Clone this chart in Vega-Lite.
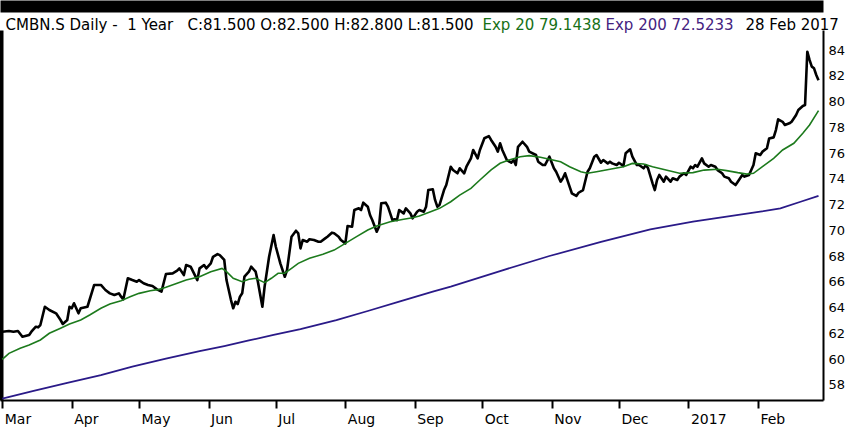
{
  "$schema": "https://vega.github.io/schema/vega-lite/v6.json",
  "width": 823,
  "height": 370,
  "autosize": {"type": "none"},
  "padding": {"left": 0, "top": 30, "right": 27, "bottom": 34},
  "background": "white",
  "config": {
    "view": {"stroke": null},
    "font": "DejaVu Sans",
    "axis": {"labelFont": "DejaVu Sans", "titleFont": "DejaVu Sans", "titleFontWeight": "normal", "grid": false}
  },
  "datasets": {
    "close": [
      {"date": "2016-03-01", "price": 61.98}, {"date": "2016-03-04", "price": 62.04}, {"date": "2016-03-06", "price": 61.98},
      {"date": "2016-03-08", "price": 62.04}, {"date": "2016-03-10", "price": 61.59}, {"date": "2016-03-13", "price": 61.73},
      {"date": "2016-03-14", "price": 61.98}, {"date": "2016-03-16", "price": 62.37}, {"date": "2016-03-17", "price": 62.32},
      {"date": "2016-03-18", "price": 62.50}, {"date": "2016-03-20", "price": 63.92}, {"date": "2016-03-22", "price": 63.67},
      {"date": "2016-03-25", "price": 63.41}, {"date": "2016-03-27", "price": 62.89}, {"date": "2016-03-28", "price": 62.58},
      {"date": "2016-03-30", "price": 62.89}, {"date": "2016-03-31", "price": 63.92}, {"date": "2016-04-01", "price": 63.80},
      {"date": "2016-04-02", "price": 64.19}, {"date": "2016-04-04", "price": 63.41}, {"date": "2016-04-05", "price": 63.80},
      {"date": "2016-04-08", "price": 63.92}, {"date": "2016-04-11", "price": 65.61}, {"date": "2016-04-14", "price": 65.61},
      {"date": "2016-04-16", "price": 65.22}, {"date": "2016-04-18", "price": 64.96}, {"date": "2016-04-20", "price": 64.83},
      {"date": "2016-04-22", "price": 64.96}, {"date": "2016-04-23", "price": 64.70}, {"date": "2016-04-24", "price": 64.50},
      {"date": "2016-04-26", "price": 66.13}, {"date": "2016-04-28", "price": 65.99}, {"date": "2016-04-30", "price": 65.86},
      {"date": "2016-05-01", "price": 65.99}, {"date": "2016-05-03", "price": 65.74}, {"date": "2016-05-05", "price": 65.61},
      {"date": "2016-05-07", "price": 65.53}, {"date": "2016-05-09", "price": 65.27}, {"date": "2016-05-11", "price": 65.09},
      {"date": "2016-05-13", "price": 66.46}, {"date": "2016-05-16", "price": 66.51}, {"date": "2016-05-18", "price": 66.72},
      {"date": "2016-05-19", "price": 66.90}, {"date": "2016-05-21", "price": 66.38}, {"date": "2016-05-22", "price": 67.16},
      {"date": "2016-05-24", "price": 67.03}, {"date": "2016-05-27", "price": 65.99}, {"date": "2016-05-28", "price": 66.90},
      {"date": "2016-05-30", "price": 67.16}, {"date": "2016-05-31", "price": 66.90}, {"date": "2016-06-02", "price": 67.29},
      {"date": "2016-06-03", "price": 67.80}, {"date": "2016-06-05", "price": 68.01}, {"date": "2016-06-06", "price": 67.93},
      {"date": "2016-06-08", "price": 67.55}, {"date": "2016-06-09", "price": 65.99}, {"date": "2016-06-11", "price": 64.44},
      {"date": "2016-06-12", "price": 63.80}, {"date": "2016-06-13", "price": 64.31}, {"date": "2016-06-14", "price": 64.13},
      {"date": "2016-06-15", "price": 64.70}, {"date": "2016-06-16", "price": 64.96}, {"date": "2016-06-17", "price": 66.25},
      {"date": "2016-06-19", "price": 66.64}, {"date": "2016-06-20", "price": 67.03}, {"date": "2016-06-22", "price": 66.64},
      {"date": "2016-06-23", "price": 65.86}, {"date": "2016-06-25", "price": 63.92}, {"date": "2016-06-26", "price": 65.48},
      {"date": "2016-06-28", "price": 67.80}, {"date": "2016-06-30", "price": 69.49}, {"date": "2016-07-01", "price": 68.58},
      {"date": "2016-07-03", "price": 67.29}, {"date": "2016-07-05", "price": 66.25}, {"date": "2016-07-06", "price": 66.77},
      {"date": "2016-07-08", "price": 69.36}, {"date": "2016-07-10", "price": 69.82}, {"date": "2016-07-11", "price": 69.62},
      {"date": "2016-07-12", "price": 68.45}, {"date": "2016-07-13", "price": 69.10}, {"date": "2016-07-15", "price": 68.97},
      {"date": "2016-07-16", "price": 69.16}, {"date": "2016-07-18", "price": 69.10}, {"date": "2016-07-20", "price": 68.97},
      {"date": "2016-07-21", "price": 68.97}, {"date": "2016-07-23", "price": 69.23}, {"date": "2016-07-24", "price": 69.36},
      {"date": "2016-07-26", "price": 69.67}, {"date": "2016-07-27", "price": 69.62}, {"date": "2016-07-29", "price": 69.36},
      {"date": "2016-07-30", "price": 69.10}, {"date": "2016-08-01", "price": 68.84}, {"date": "2016-08-02", "price": 70.19},
      {"date": "2016-08-04", "price": 70.13}, {"date": "2016-08-05", "price": 71.43}, {"date": "2016-08-07", "price": 71.56},
      {"date": "2016-08-08", "price": 71.43}, {"date": "2016-08-09", "price": 72.00}, {"date": "2016-08-11", "price": 71.69},
      {"date": "2016-08-12", "price": 71.04}, {"date": "2016-08-13", "price": 70.65}, {"date": "2016-08-15", "price": 69.74},
      {"date": "2016-08-16", "price": 70.13}, {"date": "2016-08-17", "price": 71.95}, {"date": "2016-08-19", "price": 72.00},
      {"date": "2016-08-20", "price": 71.69}, {"date": "2016-08-22", "price": 70.65}, {"date": "2016-08-23", "price": 70.71},
      {"date": "2016-08-24", "price": 70.65}, {"date": "2016-08-25", "price": 71.43}, {"date": "2016-08-27", "price": 71.17},
      {"date": "2016-08-28", "price": 71.56}, {"date": "2016-08-30", "price": 71.17}, {"date": "2016-08-31", "price": 70.78},
      {"date": "2016-09-02", "price": 71.30}, {"date": "2016-09-03", "price": 71.43}, {"date": "2016-09-05", "price": 71.30},
      {"date": "2016-09-06", "price": 71.69}, {"date": "2016-09-07", "price": 72.98}, {"date": "2016-09-09", "price": 73.04},
      {"date": "2016-09-10", "price": 72.21}, {"date": "2016-09-11", "price": 71.69}, {"date": "2016-09-12", "price": 71.82},
      {"date": "2016-09-14", "price": 72.98}, {"date": "2016-09-15", "price": 73.37}, {"date": "2016-09-17", "price": 74.79},
      {"date": "2016-09-18", "price": 74.54}, {"date": "2016-09-20", "price": 74.28}, {"date": "2016-09-21", "price": 74.67},
      {"date": "2016-09-23", "price": 74.28}, {"date": "2016-09-24", "price": 74.79}, {"date": "2016-09-26", "price": 75.44},
      {"date": "2016-09-27", "price": 76.09}, {"date": "2016-09-29", "price": 75.44}, {"date": "2016-09-30", "price": 76.09},
      {"date": "2016-10-02", "price": 77.00}, {"date": "2016-10-04", "price": 77.17}, {"date": "2016-10-05", "price": 76.87},
      {"date": "2016-10-07", "price": 76.34}, {"date": "2016-10-08", "price": 75.96}, {"date": "2016-10-09", "price": 76.61},
      {"date": "2016-10-10", "price": 76.09}, {"date": "2016-10-12", "price": 75.31}, {"date": "2016-10-14", "price": 75.10},
      {"date": "2016-10-15", "price": 75.31}, {"date": "2016-10-16", "price": 74.92}, {"date": "2016-10-17", "price": 76.34},
      {"date": "2016-10-19", "price": 76.73}, {"date": "2016-10-21", "price": 76.34}, {"date": "2016-10-22", "price": 75.96},
      {"date": "2016-10-25", "price": 75.70}, {"date": "2016-10-26", "price": 75.18}, {"date": "2016-10-28", "price": 74.92},
      {"date": "2016-10-29", "price": 74.92}, {"date": "2016-10-31", "price": 75.57}, {"date": "2016-11-02", "price": 74.67},
      {"date": "2016-11-03", "price": 74.40}, {"date": "2016-11-05", "price": 73.63}, {"date": "2016-11-06", "price": 73.89},
      {"date": "2016-11-07", "price": 74.28}, {"date": "2016-11-09", "price": 73.24}, {"date": "2016-11-10", "price": 72.73},
      {"date": "2016-11-12", "price": 72.52}, {"date": "2016-11-13", "price": 72.77}, {"date": "2016-11-15", "price": 72.98},
      {"date": "2016-11-17", "price": 74.40}, {"date": "2016-11-18", "price": 74.67}, {"date": "2016-11-20", "price": 75.57},
      {"date": "2016-11-21", "price": 75.70}, {"date": "2016-11-23", "price": 75.10}, {"date": "2016-11-24", "price": 75.31},
      {"date": "2016-11-26", "price": 75.05}, {"date": "2016-11-27", "price": 75.18}, {"date": "2016-11-28", "price": 75.05},
      {"date": "2016-11-30", "price": 74.92}, {"date": "2016-12-01", "price": 75.10}, {"date": "2016-12-03", "price": 74.85},
      {"date": "2016-12-04", "price": 75.83}, {"date": "2016-12-06", "price": 76.14}, {"date": "2016-12-07", "price": 75.57},
      {"date": "2016-12-09", "price": 74.92}, {"date": "2016-12-10", "price": 74.92}, {"date": "2016-12-12", "price": 74.67},
      {"date": "2016-12-13", "price": 74.92}, {"date": "2016-12-14", "price": 74.67}, {"date": "2016-12-16", "price": 73.50},
      {"date": "2016-12-17", "price": 72.98}, {"date": "2016-12-18", "price": 73.76}, {"date": "2016-12-19", "price": 74.15},
      {"date": "2016-12-21", "price": 73.63}, {"date": "2016-12-22", "price": 74.02}, {"date": "2016-12-24", "price": 73.63},
      {"date": "2016-12-25", "price": 73.89}, {"date": "2016-12-27", "price": 73.76}, {"date": "2016-12-28", "price": 74.02},
      {"date": "2016-12-30", "price": 74.28}, {"date": "2016-12-31", "price": 74.15}, {"date": "2017-01-02", "price": 74.79},
      {"date": "2017-01-03", "price": 74.67}, {"date": "2017-01-04", "price": 74.92}, {"date": "2017-01-05", "price": 74.79},
      {"date": "2017-01-07", "price": 75.44}, {"date": "2017-01-08", "price": 75.05}, {"date": "2017-01-10", "price": 74.79},
      {"date": "2017-01-11", "price": 74.92}, {"date": "2017-01-13", "price": 74.79}, {"date": "2017-01-14", "price": 74.53},
      {"date": "2017-01-16", "price": 74.28}, {"date": "2017-01-17", "price": 74.02}, {"date": "2017-01-19", "price": 73.89},
      {"date": "2017-01-20", "price": 73.63}, {"date": "2017-01-22", "price": 73.37}, {"date": "2017-01-23", "price": 73.63},
      {"date": "2017-01-25", "price": 74.15}, {"date": "2017-01-26", "price": 74.02}, {"date": "2017-01-28", "price": 74.15},
      {"date": "2017-01-30", "price": 74.92}, {"date": "2017-01-31", "price": 75.83}, {"date": "2017-02-02", "price": 75.70},
      {"date": "2017-02-03", "price": 75.96}, {"date": "2017-02-05", "price": 76.22}, {"date": "2017-02-06", "price": 76.99},
      {"date": "2017-02-08", "price": 77.07}, {"date": "2017-02-09", "price": 77.64}, {"date": "2017-02-10", "price": 78.47},
      {"date": "2017-02-12", "price": 78.28}, {"date": "2017-02-13", "price": 78.03}, {"date": "2017-02-15", "price": 78.16},
      {"date": "2017-02-16", "price": 78.28}, {"date": "2017-02-18", "price": 78.81}, {"date": "2017-02-19", "price": 79.19},
      {"date": "2017-02-21", "price": 79.51}, {"date": "2017-02-22", "price": 79.58}, {"date": "2017-02-23", "price": 83.72},
      {"date": "2017-02-24", "price": 83.08}, {"date": "2017-02-25", "price": 82.56}, {"date": "2017-02-26", "price": 82.43},
      {"date": "2017-02-27", "price": 81.91}, {"date": "2017-02-28", "price": 81.50}
    ],
    "ema20": [
      {"date": "2016-03-01", "price": 59.84}, {"date": "2016-03-04", "price": 60.30}, {"date": "2016-03-09", "price": 60.69},
      {"date": "2016-03-13", "price": 60.95}, {"date": "2016-03-18", "price": 61.34}, {"date": "2016-03-22", "price": 61.86},
      {"date": "2016-03-27", "price": 62.25}, {"date": "2016-03-31", "price": 62.58}, {"date": "2016-04-05", "price": 62.89},
      {"date": "2016-04-09", "price": 63.28}, {"date": "2016-04-14", "price": 63.80}, {"date": "2016-04-18", "price": 64.13},
      {"date": "2016-04-23", "price": 64.39}, {"date": "2016-04-27", "price": 64.70}, {"date": "2016-05-01", "price": 64.96},
      {"date": "2016-05-06", "price": 65.16}, {"date": "2016-05-10", "price": 65.27}, {"date": "2016-05-13", "price": 65.43},
      {"date": "2016-05-18", "price": 65.74}, {"date": "2016-05-22", "price": 65.99}, {"date": "2016-05-28", "price": 66.25},
      {"date": "2016-06-02", "price": 66.64}, {"date": "2016-06-07", "price": 66.90}, {"date": "2016-06-09", "price": 66.64},
      {"date": "2016-06-12", "price": 66.13}, {"date": "2016-06-16", "price": 65.86}, {"date": "2016-06-19", "price": 66.05},
      {"date": "2016-06-22", "price": 66.13}, {"date": "2016-06-26", "price": 65.79}, {"date": "2016-06-29", "price": 66.13},
      {"date": "2016-07-02", "price": 66.52}, {"date": "2016-07-05", "price": 66.52}, {"date": "2016-07-08", "price": 66.90},
      {"date": "2016-07-11", "price": 67.29}, {"date": "2016-07-16", "price": 67.68}, {"date": "2016-07-22", "price": 67.99},
      {"date": "2016-07-27", "price": 68.32}, {"date": "2016-08-01", "price": 68.84}, {"date": "2016-08-06", "price": 69.36},
      {"date": "2016-08-11", "price": 69.88}, {"date": "2016-08-15", "price": 70.19}, {"date": "2016-08-21", "price": 70.52},
      {"date": "2016-08-27", "price": 70.71}, {"date": "2016-08-31", "price": 70.83}, {"date": "2016-09-03", "price": 70.97},
      {"date": "2016-09-08", "price": 71.30}, {"date": "2016-09-12", "price": 71.56}, {"date": "2016-09-17", "price": 72.07},
      {"date": "2016-09-21", "price": 72.59}, {"date": "2016-09-26", "price": 73.11}, {"date": "2016-09-30", "price": 73.76},
      {"date": "2016-10-05", "price": 74.54}, {"date": "2016-10-09", "price": 75.06}, {"date": "2016-10-13", "price": 75.31},
      {"date": "2016-10-18", "price": 75.57}, {"date": "2016-10-22", "price": 75.65}, {"date": "2016-10-27", "price": 75.52},
      {"date": "2016-10-31", "price": 75.37}, {"date": "2016-11-05", "price": 75.18}, {"date": "2016-11-09", "price": 74.79},
      {"date": "2016-11-14", "price": 74.40}, {"date": "2016-11-17", "price": 74.28}, {"date": "2016-11-21", "price": 74.40},
      {"date": "2016-11-27", "price": 74.59}, {"date": "2016-12-03", "price": 74.79}, {"date": "2016-12-07", "price": 75.05},
      {"date": "2016-12-12", "price": 75.00}, {"date": "2016-12-16", "price": 74.79}, {"date": "2016-12-22", "price": 74.54},
      {"date": "2016-12-28", "price": 74.28}, {"date": "2017-01-03", "price": 74.33}, {"date": "2017-01-08", "price": 74.53},
      {"date": "2017-01-14", "price": 74.59}, {"date": "2017-01-18", "price": 74.49}, {"date": "2017-01-23", "price": 74.33},
      {"date": "2017-01-27", "price": 74.22}, {"date": "2017-01-30", "price": 74.28}, {"date": "2017-02-03", "price": 74.79},
      {"date": "2017-02-08", "price": 75.44}, {"date": "2017-02-12", "price": 76.09}, {"date": "2017-02-17", "price": 76.61},
      {"date": "2017-02-21", "price": 77.39}, {"date": "2017-02-24", "price": 78.03}, {"date": "2017-02-28", "price": 79.14}
    ],
    "ema200": [
      {"date": "2016-03-01", "price": 56.79}, {"date": "2016-03-15", "price": 57.38}, {"date": "2016-03-30", "price": 58.00},
      {"date": "2016-04-14", "price": 58.62}, {"date": "2016-04-28", "price": 59.28}, {"date": "2016-05-13", "price": 59.90},
      {"date": "2016-05-28", "price": 60.48}, {"date": "2016-06-08", "price": 60.87}, {"date": "2016-06-19", "price": 61.30},
      {"date": "2016-06-30", "price": 61.73}, {"date": "2016-07-12", "price": 62.19}, {"date": "2016-07-28", "price": 62.89},
      {"date": "2016-08-11", "price": 63.59}, {"date": "2016-08-25", "price": 64.31}, {"date": "2016-09-09", "price": 65.09},
      {"date": "2016-09-17", "price": 65.48}, {"date": "2016-10-09", "price": 66.69}, {"date": "2016-10-31", "price": 67.86},
      {"date": "2016-11-23", "price": 68.95}, {"date": "2016-12-15", "price": 69.93}, {"date": "2017-01-03", "price": 70.52},
      {"date": "2017-01-18", "price": 70.91}, {"date": "2017-02-02", "price": 71.30}, {"date": "2017-02-11", "price": 71.56},
      {"date": "2017-02-20", "price": 72.07}, {"date": "2017-02-28", "price": 72.52}
    ]
  },
  "resolve": {"axis": {"x": "independent", "y": "independent"}},
  "layer": [
    {
      "data": {"name": "close"},
      "mark": {"type": "line", "color": "#000000", "strokeWidth": 2.6, "strokeJoin": "round"},
      "encoding": {
        "x": {
          "field": "date",
          "type": "temporal",
          "scale": {"type": "utc", "domain": [{"year": 2016, "month": 2, "date": 29, "utc": true}, {"year": 2017, "month": 3, "date": 2, "utc": true}]},
          "axis": {
            "orient": "bottom",
            "values": [
              {"year": 2016, "month": 3, "date": 1, "utc": true}, {"year": 2016, "month": 4, "date": 1, "utc": true},
              {"year": 2016, "month": 5, "date": 1, "utc": true}, {"year": 2016, "month": 6, "date": 1, "utc": true},
              {"year": 2016, "month": 7, "date": 1, "utc": true}, {"year": 2016, "month": 8, "date": 1, "utc": true},
              {"year": 2016, "month": 9, "date": 1, "utc": true}, {"year": 2016, "month": 10, "date": 1, "utc": true},
              {"year": 2016, "month": 11, "date": 1, "utc": true}, {"year": 2016, "month": 12, "date": 1, "utc": true},
              {"year": 2017, "month": 1, "date": 1, "utc": true}, {"year": 2017, "month": 2, "date": 1, "utc": true}
            ],
            "labelExpr": "utcmonth(datum.value) === 0 ? utcFormat(datum.value, '%Y') : utcFormat(datum.value, '%b')",
            "labelAlign": "left",
            "labelBaseline": "top",
            "labelPadding": 4,
            "labelOffset": 2,
            "labelFontSize": 14,
            "labelColor": "#000000",
            "labelFlush": false,
            "labelOverlap": false,
            "tickSize": 8,
            "tickWidth": 2,
            "tickColor": "#000000",
            "domainColor": "#000000",
            "domainWidth": 2,
            "title": "28 Feb 2017",
            "titleX": 745,
            "titleY": -370.7,
            "titleAlign": "left",
            "titleBaseline": "alphabetic",
            "titleFontSize": 15,
            "titleColor": "#000000"
          }
        },
        "y": {
          "field": "price",
          "type": "quantitative",
          "scale": {"domain": [56.68, 85.405], "nice": false, "zero": false},
          "axis": {
            "orient": "right",
            "values": [58, 60, 62, 64, 66, 68, 70, 72, 74, 76, 78, 80, 82, 84],
            "ticks": false,
            "tickSize": 0,
            "labelPadding": 5,
            "labelOffset": 2,
            "labelFontSize": 13,
            "labelColor": "#000000",
            "labelFlush": false,
            "labelOverlap": false,
            "domainColor": "#000000",
            "domainWidth": 2,
            "title": "Exp 200 72.5233",
            "titleX": -218,
            "titleY": -0.7,
            "titleAngle": 0,
            "titleAlign": "left",
            "titleBaseline": "alphabetic",
            "titleFontSize": 15,
            "titleColor": "#45237f"
          }
        }
      }
    },
    {
      "data": {"name": "ema20"},
      "mark": {"type": "line", "color": "#1c7a1c", "strokeWidth": 1.6},
      "encoding": {
        "x": {
          "field": "date",
          "type": "temporal",
          "scale": {"type": "utc", "domain": [{"year": 2016, "month": 2, "date": 29, "utc": true}, {"year": 2017, "month": 3, "date": 2, "utc": true}]},
          "axis": {
            "orient": "top",
            "offset": 24,
            "ticks": false,
            "labels": false,
            "domainColor": "#000000",
            "domainWidth": 12,
            "title": "CMBN.S Daily -\u00a0 1 Year \u00a0 C:81.500 O:82.500 H:82.800 L:81.500",
            "titleX": 5,
            "titleY": 23.3,
            "titleAlign": "left",
            "titleBaseline": "alphabetic",
            "titleFontSize": 15,
            "titleColor": "#000000"
          }
        },
        "y": {
          "field": "price",
          "type": "quantitative",
          "scale": {"domain": [56.68, 85.405], "nice": false, "zero": false},
          "axis": {
            "orient": "left",
            "ticks": false,
            "labels": false,
            "domainColor": "#000000",
            "domainWidth": 6,
            "title": "Exp 20 79.1438",
            "titleX": 482,
            "titleY": -0.7,
            "titleAngle": 0,
            "titleAlign": "left",
            "titleBaseline": "alphabetic",
            "titleFontSize": 15,
            "titleColor": "#177017"
          }
        }
      }
    },
    {
      "data": {"name": "ema200"},
      "mark": {"type": "line", "color": "#2a1a88", "strokeWidth": 1.8},
      "encoding": {
        "x": {
          "field": "date",
          "type": "temporal",
          "scale": {"type": "utc", "domain": [{"year": 2016, "month": 2, "date": 29, "utc": true}, {"year": 2017, "month": 3, "date": 2, "utc": true}]},
          "axis": null
        },
        "y": {
          "field": "price",
          "type": "quantitative",
          "scale": {"domain": [56.68, 85.405], "nice": false, "zero": false},
          "axis": null
        }
      }
    }
  ]
}
